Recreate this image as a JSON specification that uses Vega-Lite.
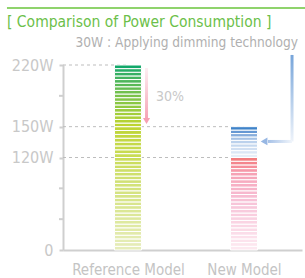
{
  "$schema": "https://vega.github.io/schema/vega-lite/v6.json",
  "width": 239,
  "height": 185,
  "autosize": {"type": "none"},
  "padding": {"left": 63, "top": 65, "right": 3, "bottom": 28},
  "background": "white",
  "title": {
    "text": "[ Comparison of Power Consumption ]",
    "anchor": "start",
    "frame": "group",
    "dx": -56,
    "offset": -24,
    "font": "Liberation Sans Narrow, DejaVu Sans Condensed, sans-serif",
    "fontSize": 15.5,
    "fontWeight": "normal",
    "color": "#6cbf4a"
  },
  "config": {
    "view": {"stroke": null},
    "axis": {"labelOverlap": false, "labelFlush": false, "grid": false, "title": null}
  },
  "datasets": {
    "guides": [
      {"w": 220, "start": 0, "end": 0.56},
      {"w": 150, "start": 0, "end": 1.56},
      {"w": 120, "start": 0, "end": 1.56}
    ],
    "minor": [
      {"w": 40},
      {"w": 80},
      {"w": 185}
    ],
    "ref": [
      {"model": "Reference Model", "lo": 0, "hi": 4.8},
      {"model": "Reference Model", "lo": 4.8, "hi": 9.6},
      {"model": "Reference Model", "lo": 9.6, "hi": 14.4},
      {"model": "Reference Model", "lo": 14.4, "hi": 19.2},
      {"model": "Reference Model", "lo": 19.2, "hi": 24},
      {"model": "Reference Model", "lo": 24, "hi": 28.8},
      {"model": "Reference Model", "lo": 28.8, "hi": 33.6},
      {"model": "Reference Model", "lo": 33.6, "hi": 38.4},
      {"model": "Reference Model", "lo": 38.4, "hi": 43.2},
      {"model": "Reference Model", "lo": 43.2, "hi": 48},
      {"model": "Reference Model", "lo": 48, "hi": 52.8},
      {"model": "Reference Model", "lo": 52.8, "hi": 57.6},
      {"model": "Reference Model", "lo": 57.6, "hi": 62.4},
      {"model": "Reference Model", "lo": 62.4, "hi": 67.2},
      {"model": "Reference Model", "lo": 67.2, "hi": 72},
      {"model": "Reference Model", "lo": 72, "hi": 76.8},
      {"model": "Reference Model", "lo": 76.8, "hi": 81.6},
      {"model": "Reference Model", "lo": 81.6, "hi": 86.4},
      {"model": "Reference Model", "lo": 86.4, "hi": 91.2},
      {"model": "Reference Model", "lo": 91.2, "hi": 96},
      {"model": "Reference Model", "lo": 96, "hi": 100.8},
      {"model": "Reference Model", "lo": 100.8, "hi": 105.6},
      {"model": "Reference Model", "lo": 105.6, "hi": 110.4},
      {"model": "Reference Model", "lo": 110.4, "hi": 115.2},
      {"model": "Reference Model", "lo": 115.2, "hi": 120},
      {"model": "Reference Model", "lo": 120, "hi": 123.75},
      {"model": "Reference Model", "lo": 123.75, "hi": 127.5},
      {"model": "Reference Model", "lo": 127.5, "hi": 131.25},
      {"model": "Reference Model", "lo": 131.25, "hi": 135},
      {"model": "Reference Model", "lo": 135, "hi": 138.75},
      {"model": "Reference Model", "lo": 138.75, "hi": 142.5},
      {"model": "Reference Model", "lo": 142.5, "hi": 146.25},
      {"model": "Reference Model", "lo": 146.25, "hi": 150},
      {"model": "Reference Model", "lo": 150, "hi": 154.1},
      {"model": "Reference Model", "lo": 154.1, "hi": 158.2},
      {"model": "Reference Model", "lo": 158.2, "hi": 162.4},
      {"model": "Reference Model", "lo": 162.4, "hi": 166.5},
      {"model": "Reference Model", "lo": 166.5, "hi": 170.6},
      {"model": "Reference Model", "lo": 170.6, "hi": 174.7},
      {"model": "Reference Model", "lo": 174.7, "hi": 178.8},
      {"model": "Reference Model", "lo": 178.8, "hi": 182.9},
      {"model": "Reference Model", "lo": 182.9, "hi": 187.1},
      {"model": "Reference Model", "lo": 187.1, "hi": 191.2},
      {"model": "Reference Model", "lo": 191.2, "hi": 195.3},
      {"model": "Reference Model", "lo": 195.3, "hi": 199.4},
      {"model": "Reference Model", "lo": 199.4, "hi": 203.5},
      {"model": "Reference Model", "lo": 203.5, "hi": 207.6},
      {"model": "Reference Model", "lo": 207.6, "hi": 211.8},
      {"model": "Reference Model", "lo": 211.8, "hi": 215.9},
      {"model": "Reference Model", "lo": 215.9, "hi": 220}
    ],
    "red": [
      {"model": "New Model", "lo": 0, "hi": 4.8},
      {"model": "New Model", "lo": 4.8, "hi": 9.6},
      {"model": "New Model", "lo": 9.6, "hi": 14.4},
      {"model": "New Model", "lo": 14.4, "hi": 19.2},
      {"model": "New Model", "lo": 19.2, "hi": 24},
      {"model": "New Model", "lo": 24, "hi": 28.8},
      {"model": "New Model", "lo": 28.8, "hi": 33.6},
      {"model": "New Model", "lo": 33.6, "hi": 38.4},
      {"model": "New Model", "lo": 38.4, "hi": 43.2},
      {"model": "New Model", "lo": 43.2, "hi": 48},
      {"model": "New Model", "lo": 48, "hi": 52.8},
      {"model": "New Model", "lo": 52.8, "hi": 57.6},
      {"model": "New Model", "lo": 57.6, "hi": 62.4},
      {"model": "New Model", "lo": 62.4, "hi": 67.2},
      {"model": "New Model", "lo": 67.2, "hi": 72},
      {"model": "New Model", "lo": 72, "hi": 76.8},
      {"model": "New Model", "lo": 76.8, "hi": 81.6},
      {"model": "New Model", "lo": 81.6, "hi": 86.4},
      {"model": "New Model", "lo": 86.4, "hi": 91.2},
      {"model": "New Model", "lo": 91.2, "hi": 96},
      {"model": "New Model", "lo": 96, "hi": 100.8},
      {"model": "New Model", "lo": 100.8, "hi": 105.6},
      {"model": "New Model", "lo": 105.6, "hi": 110.4},
      {"model": "New Model", "lo": 110.4, "hi": 115.2},
      {"model": "New Model", "lo": 115.2, "hi": 120}
    ],
    "blue": [
      {"model": "New Model", "lo": 120, "hi": 123.3},
      {"model": "New Model", "lo": 123.3, "hi": 126.7},
      {"model": "New Model", "lo": 126.7, "hi": 130},
      {"model": "New Model", "lo": 130, "hi": 133.3},
      {"model": "New Model", "lo": 133.3, "hi": 136.7},
      {"model": "New Model", "lo": 136.7, "hi": 140},
      {"model": "New Model", "lo": 140, "hi": 143.3},
      {"model": "New Model", "lo": 143.3, "hi": 146.7},
      {"model": "New Model", "lo": 146.7, "hi": 150}
    ]
  },
  "resolve": {"scale": {"color": "independent"}},
  "layer": [
    {
      "data": {"name": "guides"},
      "mark": {"type": "rule", "strokeDash": [3, 3], "color": "#bdbdbd", "strokeWidth": 1},
      "encoding": {
        "x": {
          "field": "start",
          "type": "quantitative",
          "scale": {"domain": [0, 2.06], "nice": false, "zero": false, "padding": 0},
          "axis": {
            "values": [0.56, 1.56],
            "labelExpr": "datum.value < 1 ? 'Reference Model' : 'New Model'",
            "title": null,
            "grid": false,
            "ticks": false,
            "domainColor": "#cfcfcf",
            "domainWidth": 2,
            "labelFont": "Liberation Sans Narrow, DejaVu Sans Condensed, sans-serif",
            "labelFontSize": 15,
            "labelColor": "#c4c4c4",
            "labelPadding": 12,
            "labelFlush": false,
            "labelOverlap": false
          }
        },
        "x2": {"field": "end"},
        "y": {
          "field": "w",
          "type": "quantitative",
          "scale": {"domain": [0, 120, 150, 220], "range": [185, 92.5, 61.67, 0], "nice": false, "zero": false, "padding": 0},
          "axis": {
            "values": [0, 120, 150, 220],
            "labelExpr": "datum.value == 0 ? '0' : datum.value + 'W'",
            "title": null,
            "grid": false,
            "domainColor": "#cfcfcf",
            "domainWidth": 2,
            "tickColor": "#cfcfcf",
            "tickSize": 4,
            "tickWidth": 2,
            "labelFont": "Liberation Sans Narrow, DejaVu Sans Condensed, sans-serif",
            "labelFontSize": 16,
            "labelColor": "#c8c8c8",
            "labelPadding": 6,
            "labelFlush": false,
            "labelOverlap": false
          }
        }
      }
    },
    {
      "data": {"name": "minor"},
      "mark": {"type": "tick", "orient": "horizontal", "size": 4, "thickness": 2, "color": "#cfcfcf", "xOffset": -2, "opacity": 1},
      "encoding": {
        "x": {"datum": 0, "type": "quantitative", "axis": {"title": null}},
        "y": {"field": "w", "type": "quantitative", "axis": {"title": null}}
      }
    },
    {
      "data": {"name": "ref"},
      "mark": {"type": "bar", "width": 27, "stroke": "white", "strokeWidth": 1},
      "encoding": {
        "x": {"datum": 0.56, "type": "quantitative", "axis": {"title": null}},
        "y": {"field": "lo", "type": "quantitative", "axis": {"title": null}},
        "y2": {"field": "hi"},
        "color": {
          "field": "lo",
          "type": "quantitative",
          "legend": null,
          "scale": {"domain": [0, 60, 120, 150, 185, 215.9], "range": ["#e6edba", "#d8e58c", "#c9dc55", "#bdd431", "#76c14b", "#12a86a"]}
        }
      }
    },
    {
      "data": {"name": "red"},
      "mark": {"type": "bar", "width": 27, "stroke": "white", "strokeWidth": 1},
      "encoding": {
        "x": {"datum": 1.56, "type": "quantitative", "axis": {"title": null}},
        "y": {"field": "lo", "type": "quantitative", "axis": {"title": null}},
        "y2": {"field": "hi"},
        "color": {
          "field": "lo",
          "type": "quantitative",
          "legend": null,
          "scale": {"domain": [0, 60, 95, 115.2], "range": ["#fde9f1", "#f7c3d8", "#f6a4b7", "#f27c7e"]}
        }
      }
    },
    {
      "data": {"name": "blue"},
      "mark": {"type": "bar", "width": 27, "stroke": "white", "strokeWidth": 1},
      "encoding": {
        "x": {"datum": 1.56, "type": "quantitative", "axis": {"title": null}},
        "y": {"field": "lo", "type": "quantitative", "axis": {"title": null}},
        "y2": {"field": "hi"},
        "color": {
          "field": "lo",
          "type": "quantitative",
          "legend": null,
          "scale": {"domain": [120, 135, 146.7], "range": ["#e6eef8", "#b5cdea", "#3f83c9"]}
        }
      }
    },
    {
      "data": {"values": [{}]},
      "mark": {
        "type": "bar",
        "width": 3,
        "fill": {"gradient": "linear", "x1": 0, "y1": 0, "x2": 0, "y2": 1, "stops": [{"offset": 0, "color": "#fdeef2"}, {"offset": 1, "color": "#f6a3b5"}]}
      },
      "encoding": {
        "x": {"datum": 0.72, "type": "quantitative", "axis": {"title": null}},
        "y": {"datum": 216.6, "type": "quantitative", "axis": {"title": null}},
        "y2": {"datum": 159.6}
      }
    },
    {
      "data": {"values": [{}]},
      "mark": {"type": "point", "shape": "triangle-down", "filled": true, "size": 50, "color": "#f6a0b2", "opacity": 1},
      "encoding": {
        "x": {"datum": 0.72, "type": "quantitative", "axis": {"title": null}},
        "y": {"datum": 156.4, "type": "quantitative", "axis": {"title": null}}
      }
    },
    {
      "data": {"values": [{}]},
      "mark": {
        "type": "bar",
        "width": 3,
        "fill": {"gradient": "linear", "x1": 0, "y1": 0, "x2": 0, "y2": 1, "stops": [{"offset": 0, "color": "#77a5da"}, {"offset": 1, "color": "#eef3fa"}]}
      },
      "encoding": {
        "x": {"datum": 1.974, "type": "quantitative", "axis": {"title": null}},
        "y": {"datum": 231.4, "type": "quantitative", "axis": {"title": null}},
        "y2": {"datum": 135.6}
      }
    },
    {
      "data": {"values": [{}]},
      "mark": {
        "type": "bar",
        "height": 3,
        "fill": {"gradient": "linear", "x1": 0, "y1": 0, "x2": 1, "y2": 0, "stops": [{"offset": 0, "color": "#a6c1e7"}, {"offset": 1, "color": "#f0f5fb"}]}
      },
      "encoding": {
        "x": {"datum": 1.767, "type": "quantitative", "axis": {"title": null}},
        "x2": {"datum": 1.974},
        "y": {"datum": 135.6, "type": "quantitative", "axis": {"title": null}}
      }
    },
    {
      "data": {"values": [{}]},
      "mark": {"type": "point", "shape": "triangle-left", "filled": true, "size": 60, "color": "#97b7e3", "opacity": 1},
      "encoding": {
        "x": {"datum": 1.733, "type": "quantitative", "axis": {"title": null}},
        "y": {"datum": 135.6, "type": "quantitative", "axis": {"title": null}}
      }
    },
    {
      "data": {"values": [{}]},
      "mark": {"type": "text", "text": "30%", "font": "Liberation Sans Narrow, DejaVu Sans Condensed, sans-serif", "fontSize": 14, "color": "#c8c8c8", "align": "center", "baseline": "middle"},
      "encoding": {
        "x": {"datum": 0.922, "type": "quantitative", "axis": {"title": null}},
        "y": {"datum": 183.7, "type": "quantitative", "axis": {"title": null}}
      }
    },
    {
      "data": {"values": [{}]},
      "mark": {"type": "text", "text": "30W : Applying dimming technology", "font": "Liberation Sans Narrow, DejaVu Sans Condensed, sans-serif", "fontSize": 13.6, "color": "#b0b0b0", "align": "right", "baseline": "middle"},
      "encoding": {
        "x": {"datum": 2.026, "type": "quantitative", "axis": {"title": null}},
        "y": {"datum": 245, "type": "quantitative", "axis": {"title": null}}
      }
    },
    {
      "data": {"values": [{}]},
      "mark": {"type": "rule", "color": "#8fd36c", "strokeWidth": 2},
      "encoding": {
        "x": {"datum": -0.483, "type": "quantitative", "axis": {"title": null}},
        "x2": {"datum": 2.086},
        "y": {"datum": 284.7, "type": "quantitative", "axis": {"title": null}}
      }
    }
  ]
}
